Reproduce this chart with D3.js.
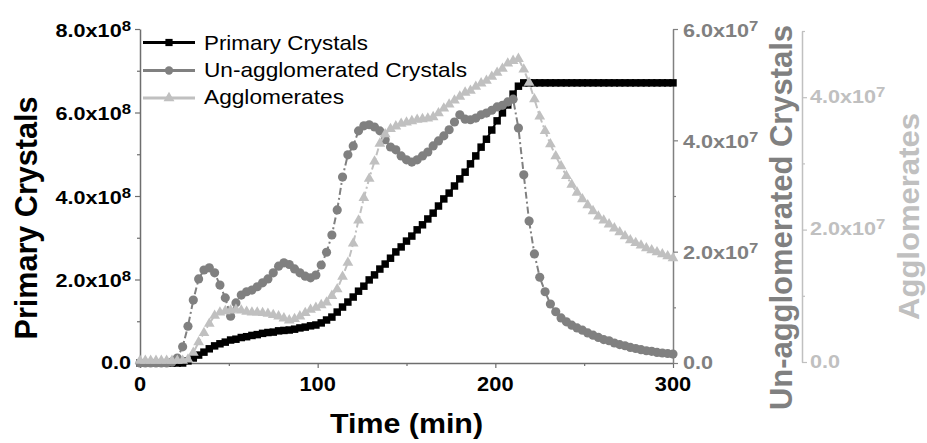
<!DOCTYPE html>
<html>
<head>
<meta charset="utf-8">
<script src="https://cdn.jsdelivr.net/npm/d3@7"></script>
<style>
  html, body { margin: 0; padding: 0; background: #ffffff; }
  svg { display: block; font-family: "Liberation Sans", Arial, sans-serif; }
</style>
</head>
<body>
<svg id="chart" width="927" height="443"></svg>
<script>
// Sampling times (min)
const times = [
  0, 3, 6, 9, 12, 15, 18, 21, 24, 27,
  30, 33, 36, 39, 42, 45, 48, 51, 54, 57,
  60, 63, 66, 69, 72, 75, 78, 81, 84, 87,
  90, 93, 96, 99, 102, 105, 108, 111, 114, 117,
  120, 123, 126, 129, 132, 135, 138, 141, 144, 147,
  150, 153, 156, 159, 162, 165, 168, 171, 174, 177,
  180, 183, 186, 189, 192, 195, 198, 201, 204, 207,
  210, 213, 216, 219, 222, 225, 228, 231, 234, 237,
  240, 243, 246, 249, 252, 255, 258, 261, 264, 267,
  270, 273, 276, 279, 282, 285, 288, 291, 294, 297,
  300
];

// Primary crystals, in units of 1e8
const primaryE8 = [
  0, 0, 0, 0, 0, 0, 0, 0, 0, 0.05,
  0.12, 0.19, 0.26, 0.34, 0.41, 0.46, 0.50, 0.55, 0.57, 0.61,
  0.63, 0.66, 0.68, 0.71, 0.73, 0.74, 0.77, 0.78, 0.79, 0.81,
  0.84, 0.86, 0.89, 0.91, 0.96, 1.03, 1.10, 1.22, 1.34, 1.46,
  1.58, 1.72, 1.84, 1.99, 2.11, 2.25, 2.37, 2.51, 2.66, 2.78,
  2.92, 3.04, 3.19, 3.31, 3.45, 3.59, 3.76, 3.93, 4.07, 4.24,
  4.41, 4.57, 4.77, 4.96, 5.17, 5.36, 5.58, 5.80, 5.99, 6.18,
  6.44, 6.63, 6.71, 6.71, 6.71, 6.71, 6.71, 6.71, 6.71, 6.71,
  6.71, 6.71, 6.71, 6.71, 6.71, 6.71, 6.71, 6.71, 6.71, 6.71,
  6.71, 6.71, 6.71, 6.71, 6.71, 6.71, 6.71, 6.71, 6.71, 6.71,
  6.71
];

// Un-agglomerated crystals, in units of 1e7
const unaggE7 = [
  0, 0, 0, 0, 0, 0, 0.02, 0.09, 0.29, 0.66,
  1.13, 1.51, 1.67, 1.71, 1.62, 1.40, 1.17, 0.84, 1.08, 1.22,
  1.28, 1.31, 1.37, 1.44, 1.51, 1.62, 1.74, 1.80, 1.77, 1.69,
  1.62, 1.56, 1.53, 1.58, 1.76, 1.99, 2.30, 2.75, 3.34, 3.74,
  3.90, 4.17, 4.26, 4.28, 4.24, 4.17, 4.01, 3.88, 3.83, 3.72,
  3.65, 3.61, 3.65, 3.72, 3.79, 3.90, 3.99, 4.08, 4.19, 4.33,
  4.46, 4.38, 4.37, 4.40, 4.46, 4.49, 4.54, 4.60, 4.63, 4.69,
  4.74, 4.22, 3.38, 2.55, 1.96, 1.54, 1.28, 1.06, 0.92, 0.81,
  0.74, 0.68, 0.63, 0.59, 0.54, 0.50, 0.46, 0.42, 0.40, 0.36,
  0.33, 0.31, 0.28, 0.26, 0.24, 0.22, 0.21, 0.19, 0.18, 0.17,
  0.16
];

// Agglomerates, in units of 1e7
const aggE7 = [
  0.02, 0.02, 0.02, 0.02, 0.02, 0.02, 0.02, 0.02, 0.02, 0.04,
  0.14, 0.30, 0.44, 0.58, 0.70, 0.75, 0.77, 0.78, 0.79, 0.78,
  0.76, 0.75, 0.75, 0.74, 0.73, 0.71, 0.69, 0.66, 0.63, 0.65,
  0.69, 0.74, 0.79, 0.82, 0.86, 0.90, 1.00, 1.10, 1.29, 1.50,
  1.79, 2.14, 2.48, 2.77, 3.03, 3.30, 3.44, 3.52, 3.56, 3.60,
  3.62, 3.64, 3.66, 3.67, 3.68, 3.70, 3.76, 3.83, 3.89, 3.95,
  4.01, 4.07, 4.10, 4.16, 4.21, 4.25, 4.31, 4.37, 4.43, 4.51,
  4.55, 4.58, 4.42, 4.22, 3.97, 3.71, 3.49, 3.29, 3.11, 2.96,
  2.81, 2.68, 2.56, 2.46, 2.37, 2.28, 2.20, 2.14, 2.08, 2.02,
  1.96, 1.90, 1.84, 1.80, 1.76, 1.72, 1.69, 1.66, 1.63, 1.60,
  1.57
];

// Axis ticks
const timeTicks = [0, 100, 200, 300];
const timeMinorTicks = [50, 150, 250];
const primaryTicks = [0, 2, 4, 6, 8];
const primaryMinorTicks = [1, 3, 5, 7];
const unaggTicks = [0, 2, 4, 6];
const unaggMinorTicks = [1, 3, 5];
const aggTicks = [0, 2, 4];
const aggMinorTicks = [1, 3, 5];

const seriesNames = ["Primary Crystals", "Un-agglomerated Crystals", "Agglomerates"];
const timeTitle = "Time (min)";

const colors = { primary: "#000000", unagg: "#808080", agg: "#c0c0c0", axis: "#6e6e6e" };

const svg = d3.select("#chart");
const plot = { left: 140, right: 673, top: 29, bottom: 363 };
const aggAxisX = 802;

const x = d3.scaleLinear().domain([0, 300]).range([plot.left, plot.right]);
const yP = d3.scaleLinear().domain([0, 8]).range([plot.bottom, plot.top]);
const yU = d3.scaleLinear().domain([0, 6]).range([plot.bottom, plot.top]);
const yA = d3.scaleLinear().domain([0, 5]).range([plot.bottom - 1, plot.top + 2]);

// ---- axes (lines + ticks) ----
function styleAxis(g, color) {
  g.selectAll("path.domain").attr("stroke", color).attr("stroke-width", 1.5);
  g.selectAll(".tick line").attr("stroke", color).attr("stroke-width", 1.2);
  g.selectAll(".tick text").remove();
}

function drawAxis(axisGen, scale, major, minor, transform, color) {
  const gMaj = svg.append("g").attr("transform", transform)
    .call(axisGen(scale).tickValues(major).tickSize(5).tickSizeOuter(0).tickFormat(""));
  styleAxis(gMaj, color);
  const gMin = svg.append("g").attr("transform", transform)
    .call(axisGen(scale).tickValues(minor).tickSize(3).tickSizeOuter(0).tickFormat(""));
  gMin.select("path.domain").remove();
  styleAxis(gMin, color);
}

drawAxis(d3.axisBottom, x, timeTicks, timeMinorTicks, `translate(0,${plot.bottom})`, colors.axis);
drawAxis(d3.axisLeft, yP, primaryTicks, primaryMinorTicks, `translate(${plot.left},0)`, colors.axis);
drawAxis(d3.axisRight, yU, unaggTicks, unaggMinorTicks, `translate(${plot.right},0)`, colors.unagg);
drawAxis(d3.axisRight, yA, aggTicks, aggMinorTicks, `translate(${aggAxisX},0)`, colors.agg);

// ---- tick labels with superscript exponents ----
const fmt = d3.format(".1f");
function sciLabel(px, py, value, exp, anchor, color, sx) {
  const g = svg.append("g").attr("transform", `translate(${px},${py}) scale(${sx},1)`);
  const t = g.append("text")
    .attr("text-anchor", anchor)
    .attr("font-weight", "bold")
    .attr("font-size", 18)
    .attr("fill", color);
  t.append("tspan").text(fmt(value) + (value === 0 ? "" : "x10"));
  if (value !== 0) {
    t.append("tspan").attr("font-size", 14).attr("dy", -6).text(exp);
  }
}

primaryTicks.forEach(v => sciLabel(131, yP(v) + (v === 0 ? 5.5 : 7.5), v, "8", "end", "#000000", 1.2));
unaggTicks.forEach(v => sciLabel(683, yU(v) + (v === 0 ? 5.5 : 7.8), v, "7", "start", colors.unagg, 1.2));
aggTicks.forEach(v => sciLabel(810, yA(v) + 5.5, v, "7", "start", colors.agg, 1.2));

timeTicks.forEach(v => {
  svg.append("g").attr("transform", `translate(${x(v)},391) scale(1.12,1)`)
    .append("text")
    .attr("text-anchor", "middle")
    .attr("font-weight", "bold")
    .attr("font-size", 19.5)
    .attr("fill", "#000000")
    .text(v);
});

// ---- axis titles ----
svg.append("text")
  .attr("x", (plot.left + plot.right) / 2).attr("y", 433)
  .attr("text-anchor", "middle").attr("font-weight", "bold").attr("font-size", 28)
  .attr("textLength", 153).attr("lengthAdjust", "spacingAndGlyphs")
  .text(timeTitle);

function vTitle(px, py, label, color, len, size) {
  svg.append("text")
    .attr("transform", `translate(${px},${py}) rotate(-90)`)
    .attr("text-anchor", "middle").attr("font-weight", "bold").attr("font-size", size)
    .attr("textLength", len).attr("lengthAdjust", "spacingAndGlyphs")
    .attr("fill", color)
    .text(label);
}
vTitle(37, 218, seriesNames[0], "#000000", 243, 31);
vTitle(791.5, 217.5, seriesNames[1], colors.unagg, 385, 31);
vTitle(919, 216.5, seriesNames[2], colors.agg, 207, 30);

// ---- data series ----
const series = [
  { values: primaryE8, y: yP, color: colors.primary, symbol: d3.symbolSquare, size: 56, dash: null },
  { values: unaggE7, y: yU, color: colors.unagg, symbol: d3.symbolCircle, size: 66, dash: "7,3,2,3" },
  { values: aggE7, y: yA, color: colors.agg, symbol: d3.symbolTriangle, size: 50, dash: "7,3,2,3" }
];

series.forEach(s => {
  const pts = times.map((t, i) => [t, s.values[i]]);
  const line = d3.line().x(d => x(d[0])).y(d => s.y(d[1]));
  svg.append("path")
    .datum(pts)
    .attr("d", line)
    .attr("fill", "none")
    .attr("stroke", s.color)
    .attr("stroke-width", 2)
    .attr("stroke-dasharray", s.dash);
  const sym = d3.symbol().type(s.symbol).size(s.size);
  svg.append("g").selectAll("path")
    .data(pts)
    .join("path")
    .attr("transform", d => `translate(${x(d[0])},${s.y(d[1])})`)
    .attr("d", sym)
    .attr("fill", s.color);
});

// ---- legend ----
const legendRows = [
  { name: seriesNames[0], color: colors.primary, symbol: d3.symbolSquare, size: 52, lineY: 42.5, textY: 49.5, len: 164 },
  { name: seriesNames[1], color: colors.unagg, symbol: d3.symbolCircle, size: 55, lineY: 70.5, textY: 77, len: 263 },
  { name: seriesNames[2], color: colors.agg, symbol: d3.symbolTriangle, size: 52, lineY: 98, textY: 104, len: 140 }
];
const legend = svg.append("g");
legendRows.forEach(r => {
  legend.append("line")
    .attr("x1", 143).attr("x2", 195).attr("y1", r.lineY).attr("y2", r.lineY)
    .attr("stroke", r.color).attr("stroke-width", 3);
  legend.append("path")
    .attr("transform", `translate(169,${r.lineY})`)
    .attr("d", d3.symbol().type(r.symbol).size(r.size))
    .attr("fill", r.color);
  legend.append("text")
    .attr("x", 204).attr("y", r.textY)
    .attr("font-size", 21)
    .attr("textLength", r.len).attr("lengthAdjust", "spacingAndGlyphs")
    .attr("fill", "#000000")
    .text(r.name);
});
</script>
</body>
</html>
